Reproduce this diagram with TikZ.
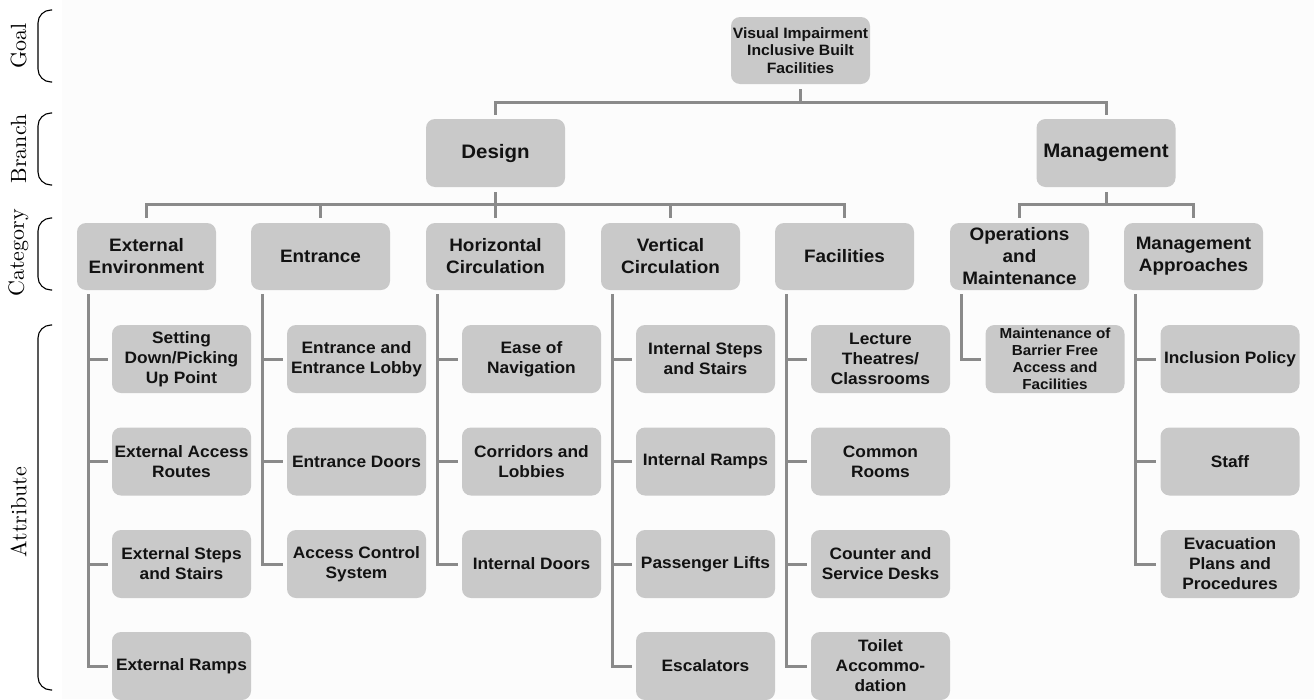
\documentclass[tikz,border=0pt]{standalone}
\usepackage{fontspec}
\newfontfamily\boxfont[FakeStretch=1.05]{Liberation Sans}
\newfontfamily\labfont{lmroman10-regular.otf}
\usetikzlibrary{calc}
\definecolor{boxgray}{RGB}{201,201,201}
\definecolor{linegray}{RGB}{138,138,138}
\definecolor{txt}{RGB}{18,18,18}
\tikzset{
  box/.style={draw=none, fill=boxgray, rounded corners=9pt, minimum width=139pt,
    minimum height=67pt, inner sep=0pt, align=center, text=txt,
    font=\boxfont\bfseries\fontsize{16.5}{20}\selectfont},
  goalbox/.style={box, font=\boxfont\bfseries\fontsize{15}{17.5}\selectfont},
  branchbox/.style={box, minimum height=68pt, font=\boxfont\bfseries\fontsize{19.5}{23}\selectfont},
  catbox/.style={box, font=\boxfont\bfseries\fontsize{18}{22}\selectfont},
  attbox/.style={box, minimum height=68pt},
  smallbox/.style={box, minimum height=68pt, font=\boxfont\bfseries\fontsize{14.5}{17}\selectfont},
  conn/.style={draw=linegray, line width=3pt},
  bracel/.style={draw=black, line width=1.1pt, rounded corners=13pt},
  lab/.style={rotate=90, inner sep=0pt, font=\labfont\fontsize{22}{26}\selectfont}
}
\begin{document}
\begin{tikzpicture}[x=1pt,y=-1pt]
\useasboundingbox (0,0) rectangle (1314,699);
\fill[black!1.2] (62,0) rectangle (1314,699);

% left labels and braces
\node[lab] (lgoal) at (18.5,46) {Goal};
\node[lab] (lbranch) at (18.5,149) {Branch};
\node[lab] (lcat) at (18.5,253) {Category};
\node[lab] (latt) at (18.5,512) {Attribute};
\draw[bracel] (52,10) -- (38,10) -- (38,82) -- (52,82);
\draw[bracel] (52,113) -- (38,113) -- (38,185) -- (52,185);
\draw[bracel] (52,218) -- (38,218) -- (38,290) -- (52,290);
\draw[bracel] (52,325) -- (38,325) -- (38,690) -- (52,690);

% goal and branches
\node[goalbox] (goal) at (800.5,50.5) {Visual Impairment\\Inclusive Built\\Facilities};
\node[branchbox] (design) at (495.5,153) {Design};
\node[branchbox] (mgmt) at (1106,153) {Management};

% categories
\node[catbox] (ee) at (146.5,256.5) {External\\Environment};
\node[catbox] (en) at (320.5,256.5) {Entrance};
\node[catbox] (hc) at (495.5,256.5) {Horizontal\\Circulation};
\node[catbox] (vc) at (670.5,256.5) {Vertical\\Circulation};
\node[catbox] (fa) at (844.5,256.5) {Facilities};
\node[catbox] (om) at (1019.5,256.5) {Operations\\and\\Maintenance};
\node[catbox] (ma) at (1193.5,256.5) {Management\\Approaches};

% attributes
\node[attbox] (ee1) at (181.5,359) {Setting\\Down/Picking\\Up Point};
\node[attbox] (ee2) at (181.5,461.5) {External Access\\Routes};
\node[attbox] (ee3) at (181.5,564) {External Steps\\and Stairs};
\node[attbox] (ee4) at (181.5,666) {External Ramps};

\node[attbox] (en1) at (356.5,359) {Entrance and\\Entrance Lobby};
\node[attbox] (en2) at (356.5,461.5) {Entrance Doors};
\node[attbox] (en3) at (356.5,564) {Access Control\\System};

\node[attbox] (hc1) at (531.5,359) {Ease of\\Navigation};
\node[attbox] (hc2) at (531.5,461.5) {Corridors and\\Lobbies};
\node[attbox] (hc3) at (531.5,564) {Internal Doors};

\node[attbox] (vc1) at (705.5,359) {Internal Steps\\and Stairs};
\node[attbox] (vc2) at (705.5,461.5) {Internal Ramps};
\node[attbox] (vc3) at (705.5,564) {Passenger Lifts};
\node[attbox] (vc4) at (705.5,666) {Escalators};

\node[attbox] (fa1) at (880.5,359) {Lecture\\Theatres/\\Classrooms};
\node[attbox] (fa2) at (880.5,461.5) {Common\\Rooms};
\node[attbox] (fa3) at (880.5,564) {Counter and\\Service Desks};
\node[attbox] (fa4) at (880.5,666) {Toilet\\Accommo-\\dation};

\node[smallbox] (om1) at (1055,359) {Maintenance of\\Barrier Free\\Access and\\Facilities};

\node[attbox] (ma1) at (1230,359) {Inclusion Policy};
\node[attbox] (ma2) at (1230,461.5) {Staff};
\node[attbox] (ma3) at (1230,564) {Evacuation\\Plans and\\Procedures};

% upper connectors
\coordinate (j1) at (800.5,102);
\coordinate (j2) at (495.5,204);
\coordinate (j3) at (1106,204);
\draw[conn, shorten <=5pt] (goal.south) -- (j1);
\draw[conn, shorten >=4pt] (j1) -| (design.north);
\draw[conn, shorten >=4pt] (j1) -| (mgmt.north);
\draw[conn, shorten <=5pt] (design.south) -- (j2);
\foreach \c in {ee,en,hc,vc,fa} \draw[conn, shorten >=5pt] (j2) -| (\c.north);
\draw[conn, shorten <=5pt] (mgmt.south) -- (j3);
\foreach \c in {om,ma} \draw[conn, shorten >=5pt] (j3) -| (\c.north);

% trunks
\foreach \c/\last in {ee/ee4,en/en3,hc/hc3,vc/vc4,fa/fa4,om/om1,ma/ma3}{
  \coordinate (\c T) at ([xshift=12pt]\c.south west);
  \draw[conn, shorten <=4pt, shorten >=4pt] (\c T) |- (\last.west);
}
% stubs
\foreach \c/\b in {ee/ee1,ee/ee2,ee/ee3,en/en1,en/en2,hc/hc1,hc/hc2,vc/vc1,vc/vc2,vc/vc3,fa/fa1,fa/fa2,fa/fa3,ma/ma1,ma/ma2}{
  \draw[conn, shorten >=4pt] (\b.west -| \c T) -- (\b.west);
}
\end{tikzpicture}
\end{document}
